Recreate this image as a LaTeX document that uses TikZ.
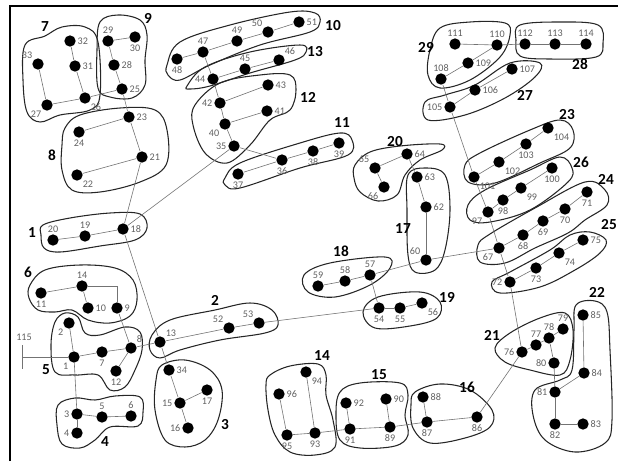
\documentclass[tikz,border=0pt]{standalone}
\usepackage{fontspec}
\setmainfont{Carlito}
\begin{document}
\begin{tikzpicture}[x=0.75pt,y=-0.75pt,
  pt/.style={circle,fill=black,inner sep=0pt,minimum size=8.5pt},
  lab/.style={font=\fontsize{7.6}{8}\selectfont,text=black!62,inner sep=0.8pt},
  edge/.style={draw=black!55,line width=0.45pt},
  grp/.style={draw=black!85,line width=0.8pt},
  glab/.style={font=\bfseries\fontsize{11.5}{13}\selectfont,inner sep=0pt},
  every label/.style={label distance=0.3pt}]
\useasboundingbox (0,0) rectangle (618,461);
\newcommand{\mynd}[4]{\node[pt,label={[lab]#4:#3}] (n#3) at (#1,#2) {};}
% frame
\draw[line width=1.8pt] (10,461) -- (10,6) -- (618,6);
% group outlines
\draw[grp] plot[smooth cycle,tension=0.6] coordinates {(25,45) (45,36) (62,27) (85,27) (98,42) (100,95) (90,110) (60,115) (40,122) (27,112) (23,80)};
\draw[grp] plot[smooth cycle,tension=0.6] coordinates {(100,22) (118,15) (140,20) (147,35) (145,60) (145,85) (132,98) (110,97) (98,88) (97,50)};
\draw[grp] plot[smooth cycle,tension=0.6] coordinates {(65,128) (80,115) (120,108) (155,110) (167,130) (166,165) (140,182) (100,192) (72,190) (62,170) (62,145)};
\draw[grp] plot[smooth cycle,tension=0.6] coordinates {(43,225) (70,218) (110,213) (140,214) (147,228) (135,240) (100,246) (60,252) (44,248) (41,235)};
\draw[grp] plot[smooth cycle,tension=0.6] coordinates {(30,285) (45,270) (80,265) (115,268) (133,280) (137,300) (130,316) (110,323) (88,320) (72,310) (55,312) (38,310) (29,298)};
\draw[grp] plot[smooth cycle,tension=0.6] coordinates {(55,322) (65,313) (78,317) (85,333) (100,335) (125,327) (140,332) (142,350) (135,370) (125,387) (110,390) (98,375) (75,375) (55,372) (51,345)};
\draw[grp] plot[smooth cycle,tension=0.6] coordinates {(58,405) (75,398) (95,400) (115,396) (140,397) (143,412) (138,426) (110,427) (95,440) (80,448) (62,444) (57,425)};
\draw[grp] plot[smooth cycle,tension=0.6] coordinates {(152,335) (170,320) (215,310) (250,303) (272,310) (278,325) (265,333) (220,340) (180,350) (160,358) (150,350)};
\draw[grp] plot[smooth cycle,tension=0.6] coordinates {(162,365) (185,360) (210,370) (222,390) (218,420) (205,440) (185,447) (165,440) (155,410) (156,380)};
\draw[grp] plot[smooth cycle,tension=0.6] coordinates {(270,375) (290,366) (318,364) (326,375) (326,395) (333,420) (335,447) (315,455) (290,452) (275,435) (268,410) (266,385)};
\draw[grp] plot[smooth cycle,tension=0.6] coordinates {(340,392) (360,383) (400,383) (408,395) (405,415) (408,435) (395,446) (360,448) (340,440) (336,415)};
\draw[grp] plot[smooth cycle,tension=0.6] coordinates {(415,392) (440,384) (470,390) (492,410) (490,427) (465,438) (430,443) (413,428) (411,405)};
\draw[grp] plot[smooth cycle,tension=0.6] coordinates {(495,348) (510,333) (540,318) (565,313) (573,330) (570,360) (560,375) (530,370) (505,362)};
\draw[grp] plot[smooth cycle,tension=0.6] coordinates {(576,305) (595,301) (607,312) (610,350) (612,420) (605,443) (575,452) (545,440) (533,415) (535,390) (560,380) (572,370) (574,330)};
\draw[grp] plot[smooth cycle,tension=0.6] coordinates {(363,312) (378,297) (420,292) (440,302) (437,318) (410,326) (375,328)};
\draw[grp] plot[smooth cycle,tension=0.6] coordinates {(304,275) (330,263) (385,257) (390,268) (370,285) (335,297) (308,292)};
\draw[grp] plot[smooth cycle,tension=0.6] coordinates {(408,175) (425,168) (445,175) (450,210) (445,250) (435,270) (415,272) (408,255) (407,210)};
\draw[grp] plot[smooth cycle,tension=0.6] coordinates {(355,165) (370,152) (400,146) (440,144) (442,150) (420,160) (405,175) (397,195) (378,201) (360,192) (354,178)};
\draw[grp] plot[smooth cycle,tension=0.6] coordinates {(225,178) (240,163) (300,143) (340,133) (352,140) (348,155) (300,168) (240,188) (225,185)};
\draw[grp] plot[smooth cycle,tension=0.6] coordinates {(195,105) (220,83) (260,75) (290,75) (296,90) (290,110) (270,120) (250,145) (227,163) (205,153) (193,125)};
\draw[grp] plot[smooth cycle,tension=0.6] coordinates {(187,86) (205,67) (250,52) (300,45) (306,52) (295,60) (250,73) (210,86) (190,89)};
\draw[grp] plot[smooth cycle,tension=0.6] coordinates {(167,65) (180,42) (230,25) (290,12) (315,13) (320,22) (310,32) (260,45) (210,65) (180,80) (168,75)};
\draw[grp] plot[smooth cycle,tension=0.6] coordinates {(440,28) (470,22) (505,23) (510,35) (500,57) (470,80) (440,88) (428,75) (430,50)};
\draw[grp] plot[smooth cycle,tension=0.6] coordinates {(520,25) (560,22) (598,25) (603,43) (596,57) (550,59) (520,56) (516,40)};
\draw[grp] plot[smooth cycle,tension=0.6] coordinates {(425,102) (445,95) (475,85) (510,63) (540,63) (535,77) (505,98) (465,115) (428,120)};
\draw[grp] plot[smooth cycle,tension=0.6] coordinates {(465,165) (480,153) (530,130) (560,120) (573,130) (570,148) (540,163) (495,183) (468,182)};
\draw[grp] plot[smooth cycle,tension=0.6] coordinates {(468,205) (485,190) (530,170) (560,157) (572,168) (568,182) (530,210) (490,222) (470,220)};
\draw[grp] plot[smooth cycle,tension=0.6] coordinates {(478,245) (490,234) (535,208) (585,182) (605,190) (607,205) (585,220) (568,233) (535,248) (505,263) (480,262)};
\draw[grp] plot[smooth cycle,tension=0.6] coordinates {(492,282) (510,272) (550,250) (570,235) (590,232) (606,240) (600,253) (575,270) (540,287) (500,293)};
% group labels
\node[glab] (g1) at (32,233) {1};
\node[glab] (g2) at (215,300) {2};
\node[glab] (g3) at (225,425) {3};
\node[glab] (g4) at (105,442) {4};
\node[glab] (g5) at (46,370) {5};
\node[glab] (g6) at (28,272) {6};
\node[glab] (g7) at (45,27) {7};
\node[glab] (g8) at (52,155) {8};
\node[glab] (g9) at (148,18) {9};
\node[glab] (g10) at (333,26) {10};
\node[glab] (g11) at (342,123) {11};
\node[glab] (g12) at (308,97) {12};
\node[glab] (g13) at (315,52) {13};
\node[glab] (g14) at (322,356) {14};
\node[glab] (g15) at (379,375) {15};
\node[glab] (g16) at (467,387) {16};
\node[glab] (g17) at (403,229) {17};
\node[glab] (g18) at (341,251) {18};
\node[glab] (g19) at (447,297) {19};
\node[glab] (g20) at (395,142) {20};
\node[glab] (g21) at (492,335) {21};
\node[glab] (g22) at (597,292) {22};
\node[glab] (g23) at (567,115) {23};
\node[glab] (g24) at (606,179) {24};
\node[glab] (g25) at (609,225) {25};
\node[glab] (g26) at (581,162) {26};
\node[glab] (g27) at (525,95) {27};
\node[glab] (g28) at (580,64) {28};
\node[glab] (g29) at (426,47) {29};
% nodes
\mynd{74}{357}{1}{below left}
\mynd{69}{323}{2}{below left}
\mynd{77}{414}{3}{left}
\mynd{77}{433}{4}{left}
\mynd{102}{417}{5}{above}
\mynd{131}{416}{6}{above}
\mynd{102}{352}{7}{below}
\mynd{131}{348}{8}{above right}
\mynd{117}{308}{9}{right}
\mynd{88}{308}{10}{right}
\mynd{41}{293}{11}{below}
\mynd{116}{371}{12}{below}
\mynd{160}{342}{13}{above right}
\mynd{82}{286}{14}{above}
\mynd{180}{403}{15}{left}
\mynd{188}{428}{16}{left}
\mynd{207}{390}{17}{below}
\mynd{123}{229}{18}{right}
\mynd{85}{236}{19}{above}
\mynd{53}{240}{20}{above}
\mynd{142}{157}{21}{right}
\mynd{77}{175}{22}{below right}
\mynd{129}{117}{23}{right}
\mynd{79}{132}{24}{below}
\mynd{122}{89}{25}{right}
\mynd{85}{98}{26}{below right}
\mynd{47}{105}{27}{below left}
\mynd{114}{65}{28}{right}
\mynd{108}{41}{29}{above}
\mynd{135}{37}{30}{below}
\mynd{75}{66}{31}{right}
\mynd{70}{41}{32}{right}
\mynd{38}{64}{33}{above left}
\mynd{169}{370}{34}{right}
\mynd{234}{146}{35}{left}
\mynd{282}{160}{36}{below}
\mynd{238}{174}{37}{below}
\mynd{313}{151}{38}{below}
\mynd{339}{143}{39}{below}
\mynd{225}{124}{40}{below left}
\mynd{267}{111}{41}{right}
\mynd{220}{103}{42}{left}
\mynd{268}{85}{43}{right}
\mynd{213}{79}{44}{left}
\mynd{245}{69}{45}{above}
\mynd{279}{60}{46}{above right}
\mynd{203}{52}{47}{above}
\mynd{177}{59}{48}{below}
\mynd{237}{41}{49}{above}
\mynd{268}{32}{50}{above left}
\mynd{299}{22}{51}{right}
\mynd{229}{328}{52}{above left}
\mynd{259}{323}{53}{above left}
\mynd{379}{308}{54}{below}
\mynd{400}{308}{55}{below}
\mynd{422}{303}{56}{below right}
\mynd{370}{275}{57}{above}
\mynd{345}{281}{58}{above}
\mynd{318}{286}{59}{above}
\mynd{426}{260}{60}{above left}
\mynd{426}{207}{62}{right}
\mynd{417}{177}{63}{right}
\mynd{407}{154}{64}{right}
\mynd{375}{168}{65}{above left}
\mynd{384}{187}{66}{below left}
\mynd{499}{248}{67}{below left}
\mynd{523}{235}{68}{below}
\mynd{543}{221}{69}{below}
\mynd{565}{209}{70}{below}
\mynd{587}{192}{71}{below}
\mynd{510}{282}{72}{left}
\mynd{536}{268}{73}{below}
\mynd{559}{253}{74}{below right}
\mynd{583}{240}{75}{right}
\mynd{522}{352}{76}{left}
\mynd{536}{345}{77}{above}
\mynd{549}{338}{78}{above}
\mynd{563}{329}{79}{above}
\mynd{554}{363}{80}{left}
\mynd{555}{392}{81}{left}
\mynd{555}{424}{82}{below}
\mynd{583}{424}{83}{right}
\mynd{584}{373}{84}{right}
\mynd{583}{315}{85}{right}
\mynd{477}{417}{86}{below}
\mynd{427}{422}{87}{below}
\mynd{423}{397}{88}{right}
\mynd{390}{427}{89}{below}
\mynd{386}{399}{90}{right}
\mynd{350}{429}{91}{below}
\mynd{346}{403}{92}{right}
\mynd{315}{433}{93}{below}
\mynd{306}{372}{94}{below right}
\mynd{287}{435}{95}{below}
\mynd{279}{394}{96}{right}
\mynd{488}{212}{97}{below left}
\mynd{503}{200}{98}{below}
\mynd{521}{188}{99}{below right}
\mynd{552}{168}{100}{below}
\mynd{474}{177}{101}{below right}
\mynd{499}{162}{102}{below right}
\mynd{526}{144}{103}{below}
\mynd{548}{128}{104}{below right}
\mynd{450}{107}{105}{left}
\mynd{475}{90}{106}{right}
\mynd{512}{69}{107}{right}
\mynd{441}{79}{108}{above}
\mynd{468}{63}{109}{right}
\mynd{497}{45}{110}{above}
\mynd{455}{44}{111}{above}
\mynd{525}{44}{112}{above}
\mynd{555}{44}{113}{above}
\mynd{586}{44}{114}{above}
\coordinate (n115) at (22,357);
\node[lab] (l115) at (24,337) {115};
% edges
\foreach \a/\b in {32/31,31/26,33/27,27/26,26/25,29/30,29/28,28/25,25/23,23/24,23/21,21/22,21/18,
  20/19,19/18,18/35,18/13,14/11,14/10,9/8,2/1,1/7,7/8,8/12,8/13,1/3,3/5,5/6,3/4,
  13/34,34/15,15/16,15/17,13/52,52/53,53/54,54/55,55/56,57/54,59/58,58/57,57/60,60/62,62/63,63/64,64/65,65/66,60/67,
  48/47,47/49,49/50,50/51,47/44,44/45,45/46,44/42,42/43,42/40,40/41,40/35,35/36,36/38,38/39,36/37,
  111/110,110/112,112/113,113/114,110/109,109/108,108/105,105/106,106/107,105/101,101/102,102/103,103/104,
  101/97,97/98,98/99,99/100,97/67,67/68,68/69,69/70,70/71,67/72,72/73,73/74,74/75,72/76,
  76/77,77/78,78/79,78/80,80/81,81/84,84/85,81/82,82/83,76/86,86/87,87/88,87/89,89/90,89/91,91/92,91/93,93/94,93/95,95/96}
  \draw[edge] (n\a) -- (n\b);
\draw[edge] (n14) -| (n9);
\draw[edge] (n115) -- (n1);
\draw[edge] (n115) ++(0,-12) -- ++(0,24);
\end{tikzpicture}
\end{document}
